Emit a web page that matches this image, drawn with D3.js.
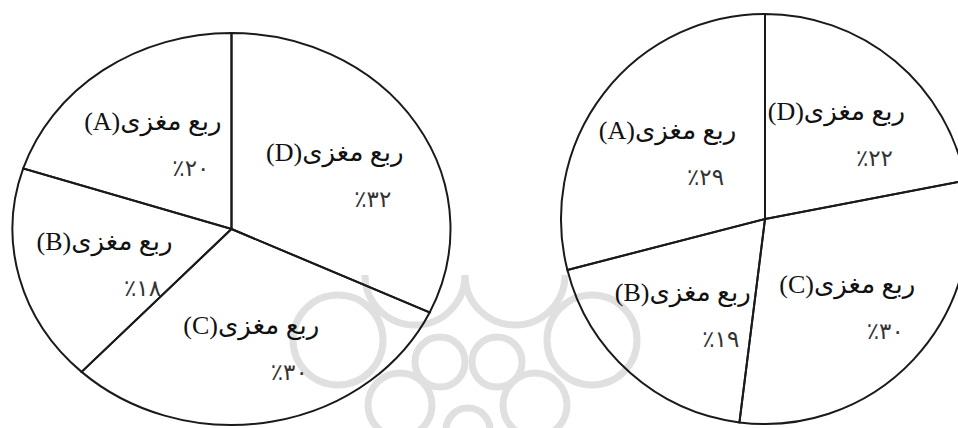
<!DOCTYPE html>
<html><head><meta charset="utf-8">
<script src="https://cdn.jsdelivr.net/npm/d3@7"></script>
<style>body{margin:0;background:#fff}svg{display:block}</style>
</head><body>
<svg id="c" width="958" height="428"></svg>
<script>
// ---- data ----
const categories = ["D", "C", "B", "A"];          // clockwise from 12 o'clock
const leftValues = [32, 30, 18, 20];
const rightValues = [22, 30, 19, 29];
const labelWord = "ربع مغزی";

// ---- helpers ----
const faDigits = "۰۱۲۳۴۵۶۷۸۹";
const toFa = n => String(n).replace(/[0-9]/g, d => faDigits[+d]);

const svg = d3.select("#c");

// faint watermark rosette (behind the pies)
const wm = svg.append("g").attr("fill", "none").attr("stroke", "#e0e0e0").attr("stroke-width", 7);
const halfArc = d3.arc().innerRadius(50).outerRadius(50).startAngle(Math.PI / 2).endAngle(3 * Math.PI / 2);
[[415, 275], [515, 275]].forEach(([x, y]) =>
  wm.append("path").attr("d", halfArc()).attr("transform", `translate(${x},${y})`));
[[338, 340, 45], [592, 340, 45], [440, 362, 25], [497, 362, 25], [400, 405, 32], [535, 405, 32], [468, 430, 22]].forEach(([x, y, r]) =>
  wm.append("circle").attr("cx", x).attr("cy", y).attr("r", r));

function drawPie(values, cx, cy, rx, ry) {
  const data = categories.map((c, i) => ({ c, v: values[i] }));
  const pie = d3.pie().sort(null).value(d => d.v).startAngle(0).endAngle(2 * Math.PI);
  const arcs = pie(data);
  const sx = rx / ry;
  const arc = d3.arc().innerRadius(0).outerRadius(ry);
  const g = svg.append("g").attr("transform", `translate(${cx},${cy}) scale(${sx},1)`);
  g.selectAll("path").data(arcs).join("path")
    .attr("d", arc)
    .attr("fill", "none")
    .attr("stroke", "#1a1a1a")
    .attr("stroke-width", 2)
    .attr("vector-effect", "non-scaling-stroke");

  const labelArc = d3.arc().innerRadius(0).outerRadius(ry * 0.58 * 2);
  arcs.forEach(a => {
    const [x0, y0] = labelArc.centroid(a);
    const x = cx + x0 * sx, y = cy + y0;
    svg.append("text")
      .attr("x", x - 4).attr("y", y - 7)
      .attr("direction", "rtl")
      .attr("text-anchor", "middle")
      .attr("font-family", "'Liberation Serif', 'DejaVu Sans', serif")
      .attr("font-size", 26)
      .attr("fill", "#111")
      .text(labelWord + "(" + a.data.c + ")");
    svg.append("text")
      .attr("x", x + 34).attr("y", y + 39)
      .attr("text-anchor", "middle")
      .attr("font-family", "'DejaVu Sans', 'Liberation Serif', serif")
      .attr("font-size", 23)
      .attr("fill", "#333")
      .text("٪" + toFa(a.data.v));
  });
}

drawPie(leftValues, 231.5, 229, 219, 196);
drawPie(rightValues, 765, 219, 204, 205);
</script>
</body></html>
